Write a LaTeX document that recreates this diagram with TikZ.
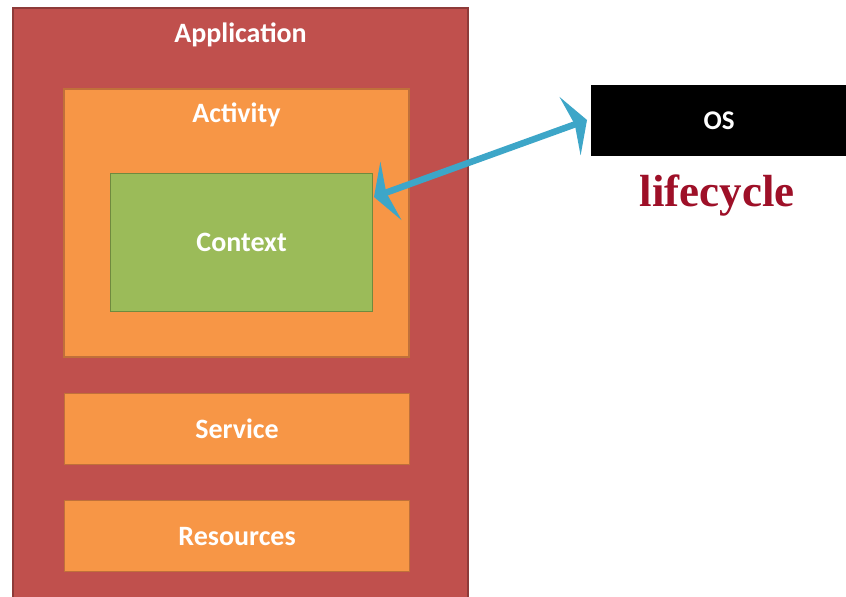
\documentclass[tikz,border=0pt]{standalone}
\usepackage{fontspec}
\setmainfont{Carlito}
\newfontfamily\serifbold{Liberation Serif}
\usetikzlibrary{arrows.meta}
\definecolor{appred}{HTML}{C0504D}
\definecolor{appredb}{HTML}{8E3B39}
\definecolor{actor}{HTML}{F79646}
\definecolor{actorb}{HTML}{C0703A}
\definecolor{ctxgreen}{HTML}{9BBB59}
\definecolor{ctxgreenb}{HTML}{6F8A3E}
\definecolor{arrowblue}{HTML}{3DA6C8}
\definecolor{lifered}{HTML}{9E1028}
\tikzset{
  box/.style={draw, line width=1.2pt, inner sep=0pt},
  lbl/.style={text=white, font=\bfseries\fontsize{28}{31}\selectfont, inner sep=0pt},
  bigtip/.tip={Stealth[length=18pt,width=62pt,inset=5pt]},
}
\begin{document}
\begin{tikzpicture}[x=1pt,y=-1pt]
\useasboundingbox (0,0) rectangle (846,597);
\fill[white] (0,0) rectangle (846,597);
% Application
\draw[box, draw=appredb, fill=appred] (13,8) rectangle (468,600);
\node[lbl] (app) at (240.5,35) {Application};
% Activity
\draw[box, draw=actorb, fill=actor] (64,89) rectangle (409,357);
\node[lbl] (act) at (236.5,115) {Activity};
% Context
\node[box, draw=ctxgreenb, fill=ctxgreen, minimum width=262pt, minimum height=138pt,
      anchor=north west] (ctx) at (110,173) {};
\node[lbl] at (ctx.center) {Context};
% Service
\node[box, draw=actorb, fill=actor, minimum width=345pt, minimum height=71pt,
      anchor=north west] (svc) at (64,393) {};
\node[lbl] at (svc.center) {Service};
% Resources
\node[box, draw=actorb, fill=actor, minimum width=345pt, minimum height=71pt,
      anchor=north west] (res) at (64,500) {};
\node[lbl] at (res.center) {Resources};
% OS
\node[fill=black, minimum width=256pt, minimum height=71pt, inner sep=0pt,
      anchor=north west, text=white, font=\bfseries\fontsize{27}{30}\selectfont] (os) at (591,85) {OS};
% lifecycle
\node[text=lifered, font=\serifbold\bfseries\fontsize{45}{49}\selectfont, inner sep=0pt] (lc) at (717,196) {lifecycle};
% arrow
\coordinate (a1) at (374,197);
\coordinate (a2) at (587,120);
\draw[arrowblue, line width=6.5pt, {bigtip}-{bigtip}] (a1) -- (a2);
\end{tikzpicture}
\end{document}
